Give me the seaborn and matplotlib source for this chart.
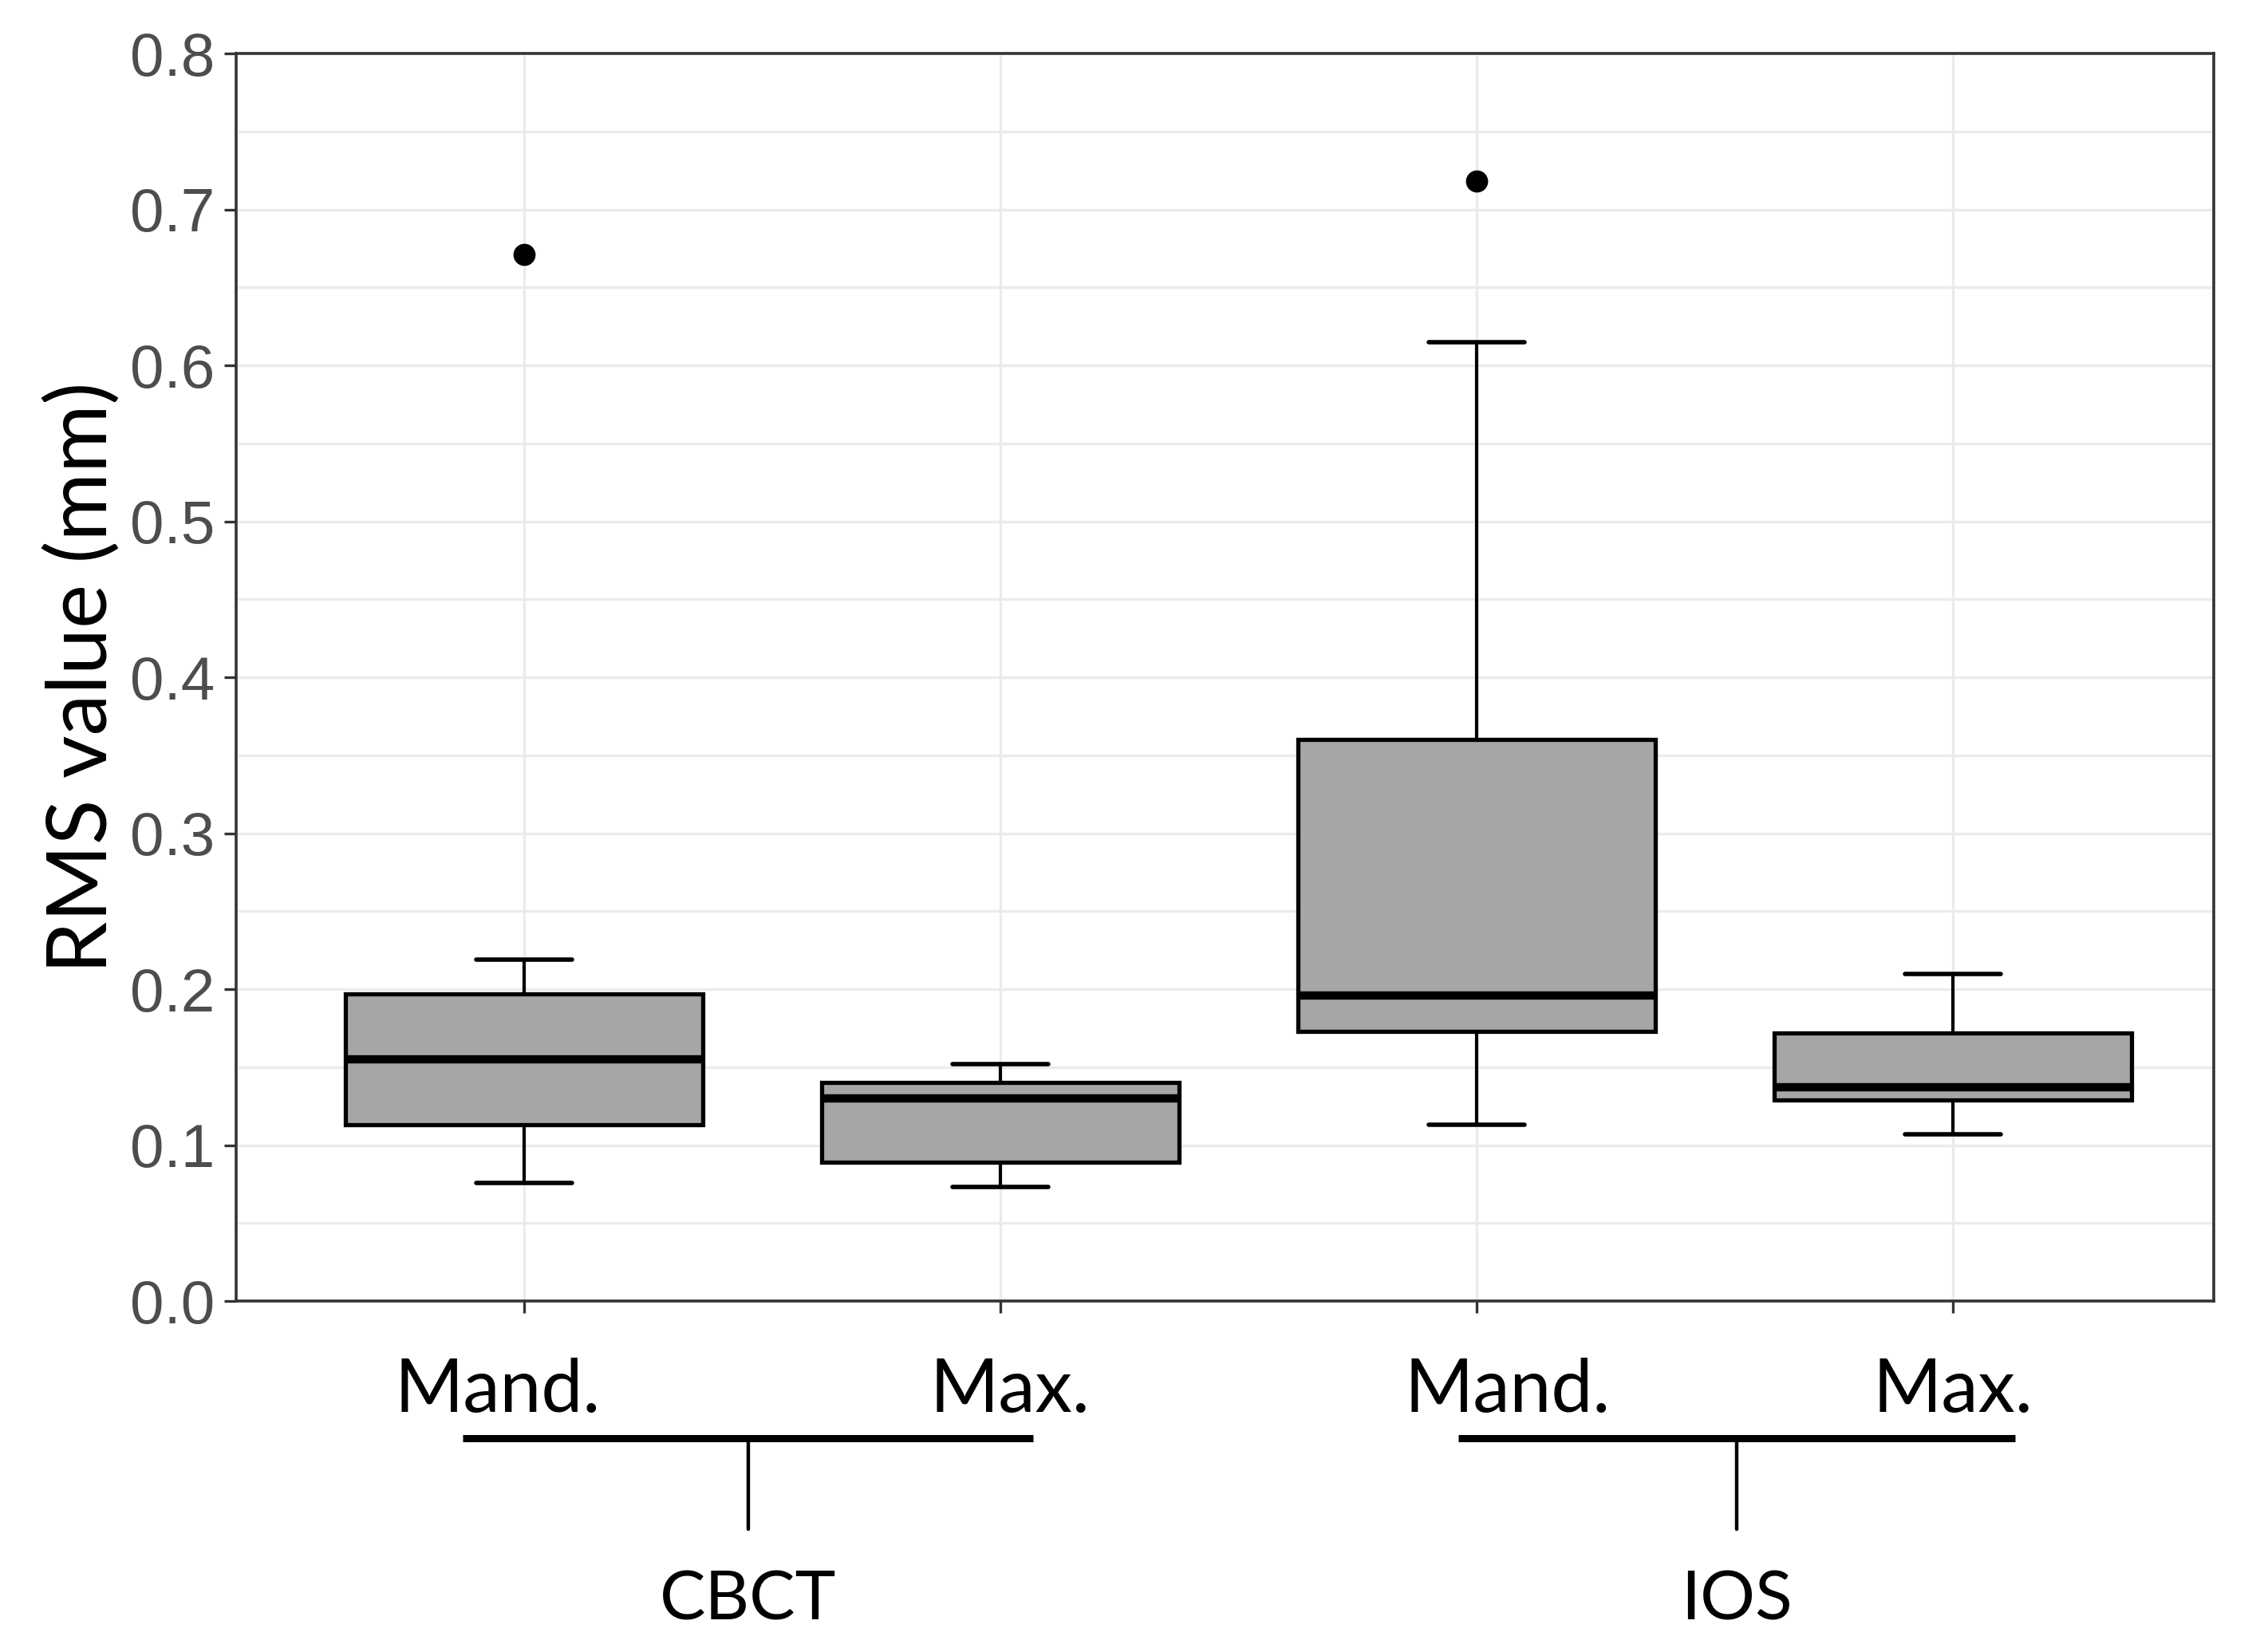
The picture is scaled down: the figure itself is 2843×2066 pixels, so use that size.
import numpy as np
import pandas as pd
import matplotlib
matplotlib.use("Agg")
import matplotlib.pyplot as plt
import seaborn as sns

# ------------------------------------------------------------------
# Data (five-number summaries + outliers)
# ------------------------------------------------------------------

groups = ["CBCT Mand.", "CBCT Max.", "IOS Mand.", "IOS Max."]
whisker_low = [0.076, 0.073, 0.113, 0.107]
q1 = [0.113, 0.089, 0.173, 0.129]
median = [0.155, 0.130, 0.196, 0.137]
q3 = [0.197, 0.140, 0.360, 0.172]
whisker_high = [0.219, 0.152, 0.615, 0.210]

outlier_groups = ["CBCT Mand.", "IOS Mand."]
outlier_values = [0.671, 0.718]

tick_labels = ["Mand.", "Max.", "Mand.", "Max."]
modalities = ["CBCT", "IOS"]

# long table: each box is drawn from its summary values, whiskers at min/max
rows = []
for g, a, b, c, d, e in zip(groups, whisker_low, q1, median, q3, whisker_high):
    for v in (a, b, c, d, e):
        rows.append({"group": g, "value": v})
df = pd.DataFrame(rows)
df_out = pd.DataFrame({"group": outlier_groups, "value": outlier_values})

# ------------------------------------------------------------------
# Style
# ------------------------------------------------------------------

sns.set_theme(style="whitegrid")
plt.rcParams["font.family"] = ["Liberation Sans", "DejaVu Sans"]
LABEL_FONT = ["Lato", "DejaVu Sans"]

fig = plt.figure(figsize=(28.43, 20.66), dpi=100)
ax = fig.add_axes([0.104, 0.2105, 0.872, 0.757])

sns.boxplot(
    data=df,
    x="group",
    y="value",
    order=groups,
    whis=(0, 100),
    width=0.75,
    color="#A6A6A6",
    saturation=1,
    linecolor="black",
    linewidth=3.8,
    medianprops={"linewidth": 7.5, "color": "black"},
    whiskerprops={"linewidth": 3.0},
    capprops={"linewidth": 4.0},
    capwidths=0.2,
    ax=ax,
    zorder=3,
)

sns.stripplot(
    data=df_out,
    x="group",
    y="value",
    order=groups,
    jitter=False,
    color="black",
    size=20,
    ax=ax,
    zorder=4,
)

# ------------------------------------------------------------------
# Axes
# ------------------------------------------------------------------

ax.set_xlim(-0.605, 3.547)
ax.set_ylim(0, 0.8)
ax.set_yticks(np.arange(0, 0.81, 0.1))
ax.set_yticks(np.arange(0.05, 0.8, 0.1), minor=True)
ax.set_yticklabels([f"{v:.1f}" for v in np.arange(0, 0.81, 0.1)])

ax.grid(True, which="major", color="#EBEBEB", linewidth=2.4)
ax.grid(True, which="minor", axis="y", color="#EBEBEB", linewidth=2.4)
ax.set_axisbelow(True)

for s in ax.spines.values():
    s.set_color("#333333")
    s.set_linewidth(2.6)

ax.tick_params(axis="both", which="major", direction="out", length=11,
               width=2.4, color="#333333", bottom=True, left=True)
ax.tick_params(axis="both", which="minor", length=0)
ax.tick_params(axis="y", labelsize=55, labelcolor="#4D4D4D", pad=8)

ax.set_xticklabels([])
ax.set_xlabel("")
ax.set_ylabel("RMS value (mm)", fontsize=75, family=LABEL_FONT,
              labelpad=8, color="black")

# category labels and group brackets under the axis
trans = ax.get_xaxis_transform()
label_x = [-0.055, 1.02, 2.065, 3.0]
for xl, lab in zip(label_x, tick_labels):
    ax.text(xl, -0.072, lab, transform=trans, ha="center", va="center",
            fontsize=67, family=LABEL_FONT, color="black")

bracket_spans = [(-0.128, 1.069), (1.962, 3.131)]
for (x0, x1), name in zip(bracket_spans, modalities):
    xm = (x0 + x1) / 2
    ax.plot([x0, x1], [-0.110, -0.110], transform=trans, color="black",
            linewidth=6.5, clip_on=False, solid_capstyle="butt")
    ax.plot([xm, xm], [-0.110, -0.183], transform=trans, color="black",
            linewidth=3.2, clip_on=False)
    ax.text(xm, -0.240, name, transform=trans, ha="center", va="center",
            fontsize=62, family=LABEL_FONT, color="black")

fig.savefig("out.png", dpi=100, facecolor="white")
